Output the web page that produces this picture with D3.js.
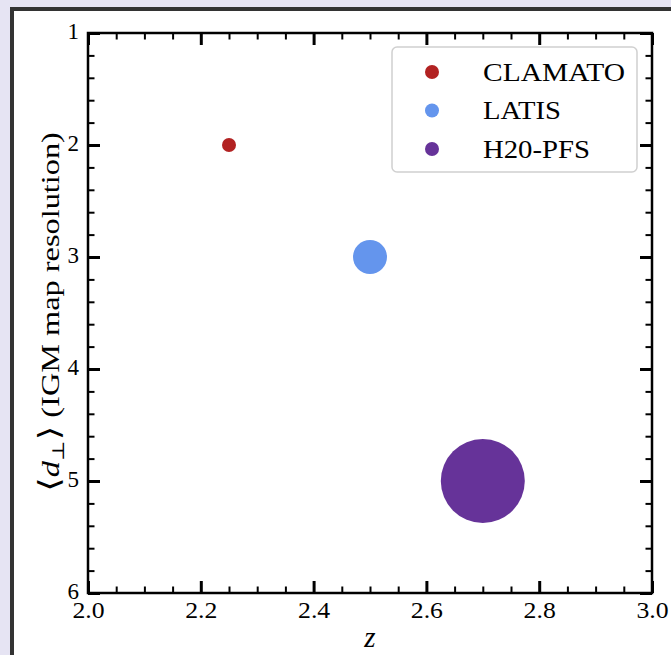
<!DOCTYPE html>
<html>
<head>
<meta charset="utf-8">
<script src="https://cdn.jsdelivr.net/npm/d3@7"></script>
<style>
  html, body { margin: 0; padding: 0; background: #e6e4f3; }
  svg { display: block; }
  text { font-family: "Liberation Serif", "DejaVu Serif", serif; fill: #000; }
</style>
</head>
<body>
<svg id="chart" width="671" height="655"></svg>
<script>
// Survey data: mean redshift and mean transverse sightline separation
const surveys = ["CLAMATO", "LATIS", "H20-PFS"];
const redshift = [2.25, 2.5, 2.7];
const separation = [2, 3, 5];

// Axis ticks
const xTicks = [2.0, 2.2, 2.4, 2.6, 2.8, 3.0];
const yTicks = [1, 2, 3, 4, 5, 6];

// Styling
const colors = ["#b22222", "#6495ed", "#663399"];
const markerRadius = [7, 17, 42];
const legendRadius = 7;
const serif = "'Liberation Serif', 'DejaVu Serif', serif";

const svg = d3.select("#chart");
const W = 671, H = 655;

// Horizontal stretch factor that brings a text to the wanted length
function stretchFor(sel, target) {
  const len = sel.node().getComputedTextLength();
  return len > 0 ? target / len : 1;
}

// White panel with dark frame
svg.append("rect").attr("x", 0).attr("y", 0).attr("width", W).attr("height", H).attr("fill", "#e6e4f3");
svg.append("rect").attr("x", 12).attr("y", 9).attr("width", W + 20).attr("height", H + 20)
  .attr("fill", "#fff").attr("stroke", "#333").attr("stroke-width", 4);

const plot = { left: 88, top: 33, right: 652, bottom: 593 };
const x = d3.scaleLinear().domain([2.0, 3.0]).range([plot.left, plot.right]);
const y = d3.scaleLinear().domain([1, 6]).range([plot.top, plot.bottom]);

const fmt = d3.format(".1f");
const majorLen = 12, minorLen = 6.5;
const xMinor = d3.range(2.0, 3.0001, 0.05).filter(v => Math.abs(Math.round(v * 5) - v * 5) > 1e-6);
const yMinor = d3.range(1, 6.0001, 0.2).filter(v => Math.abs(Math.round(v) - v) > 1e-6);

// Inward ticks on all four sides
function tickAxis(axisFn, scale, values, len, width, pos, fmtFn) {
  const a = axisFn(scale).tickValues(values).tickSizeInner(-len).tickSizeOuter(0)
    .tickFormat(fmtFn || (() => ""));
  const g = svg.append("g").attr("transform", pos).call(a)
    .attr("font-family", serif).attr("font-size", 23);
  g.select(".domain").remove();
  g.selectAll(".tick line").attr("stroke", "#000").attr("stroke-width", width);
  g.selectAll(".tick text").attr("fill", "#000");
  return g;
}

// bottom
const gxb = tickAxis(d3.axisBottom, x, xTicks, majorLen, 3, `translate(0,${plot.bottom})`, fmt);
gxb.selectAll(".tick text").attr("y", 0).attr("dy", "1.08em")
  .attr("transform", "scale(1.12,1)");
tickAxis(d3.axisBottom, x, xMinor, minorLen, 2, `translate(0,${plot.bottom})`);
// top
tickAxis(d3.axisTop, x, xTicks, majorLen, 3, `translate(0,${plot.top})`);
tickAxis(d3.axisTop, x, xMinor, minorLen, 2, `translate(0,${plot.top})`);
// left
const gyl = tickAxis(d3.axisLeft, y, yTicks, majorLen, 3, `translate(${plot.left},0)`, d3.format("d"));
gyl.selectAll(".tick text").attr("x", -9).attr("dy", "0.22em");
tickAxis(d3.axisLeft, y, yMinor, minorLen, 2, `translate(${plot.left},0)`);
// right
tickAxis(d3.axisRight, y, yTicks, majorLen, 3, `translate(${plot.right},0)`);
tickAxis(d3.axisRight, y, yMinor, minorLen, 2, `translate(${plot.right},0)`);

// Frame of the axes
svg.append("rect").attr("x", plot.left).attr("y", plot.top)
  .attr("width", plot.right - plot.left).attr("height", plot.bottom - plot.top)
  .attr("fill", "none").attr("stroke", "#000").attr("stroke-width", 2.5);

// Scatter points
const data = surveys.map((s, i) => ({ name: s, z: redshift[i], d: separation[i], c: colors[i], r: markerRadius[i] }));
svg.append("g").selectAll("circle").data(data).join("circle")
  .attr("cx", d => x(d.z)).attr("cy", d => y(d.d)).attr("r", d => d.r)
  .attr("fill", d => d.c);

// Legend
const legendWidths = [142, 78, 107];
const lg = svg.append("g");
lg.append("rect").attr("x", 392).attr("y", 47).attr("width", 245).attr("height", 125)
  .attr("rx", 5).attr("fill", "#fff").attr("stroke", "#d0d0d0").attr("stroke-width", 1.5);
data.forEach((d, i) => {
  const cy = 72 + i * 38.5;
  lg.append("circle").attr("cx", 432).attr("cy", cy).attr("r", legendRadius).attr("fill", d.c);
  const t = lg.append("text").attr("x", 0).attr("y", 0).attr("dy", "0.35em")
    .attr("font-size", 25).text(d.name);
  const k = stretchFor(t, legendWidths[i]);
  t.attr("transform", `translate(483,${cy}) scale(${k},1)`);
});

// Axis labels
svg.append("text").attr("x", (plot.left + plot.right) / 2).attr("y", 647)
  .attr("text-anchor", "middle").attr("font-size", 29).attr("font-style", "italic").text("z");

const yl = svg.append("text")
  .attr("text-anchor", "middle").attr("font-size", 25);
yl.append("tspan").attr("font-size", 29).text("\u27E8");
yl.append("tspan").attr("font-style", "italic").text("d");
yl.append("tspan").attr("font-size", 17).attr("dy", 5).text("\u22A5");
yl.append("tspan").attr("dy", -5).attr("font-size", 29).text("\u27E9");
yl.append("tspan").text(" (IGM map resolution)");
const ky = stretchFor(yl, 360);
yl.attr("transform", `translate(59,${(plot.top + plot.bottom) / 2 - 1}) rotate(-90) scale(${ky},1)`);
</script>
</body>
</html>
